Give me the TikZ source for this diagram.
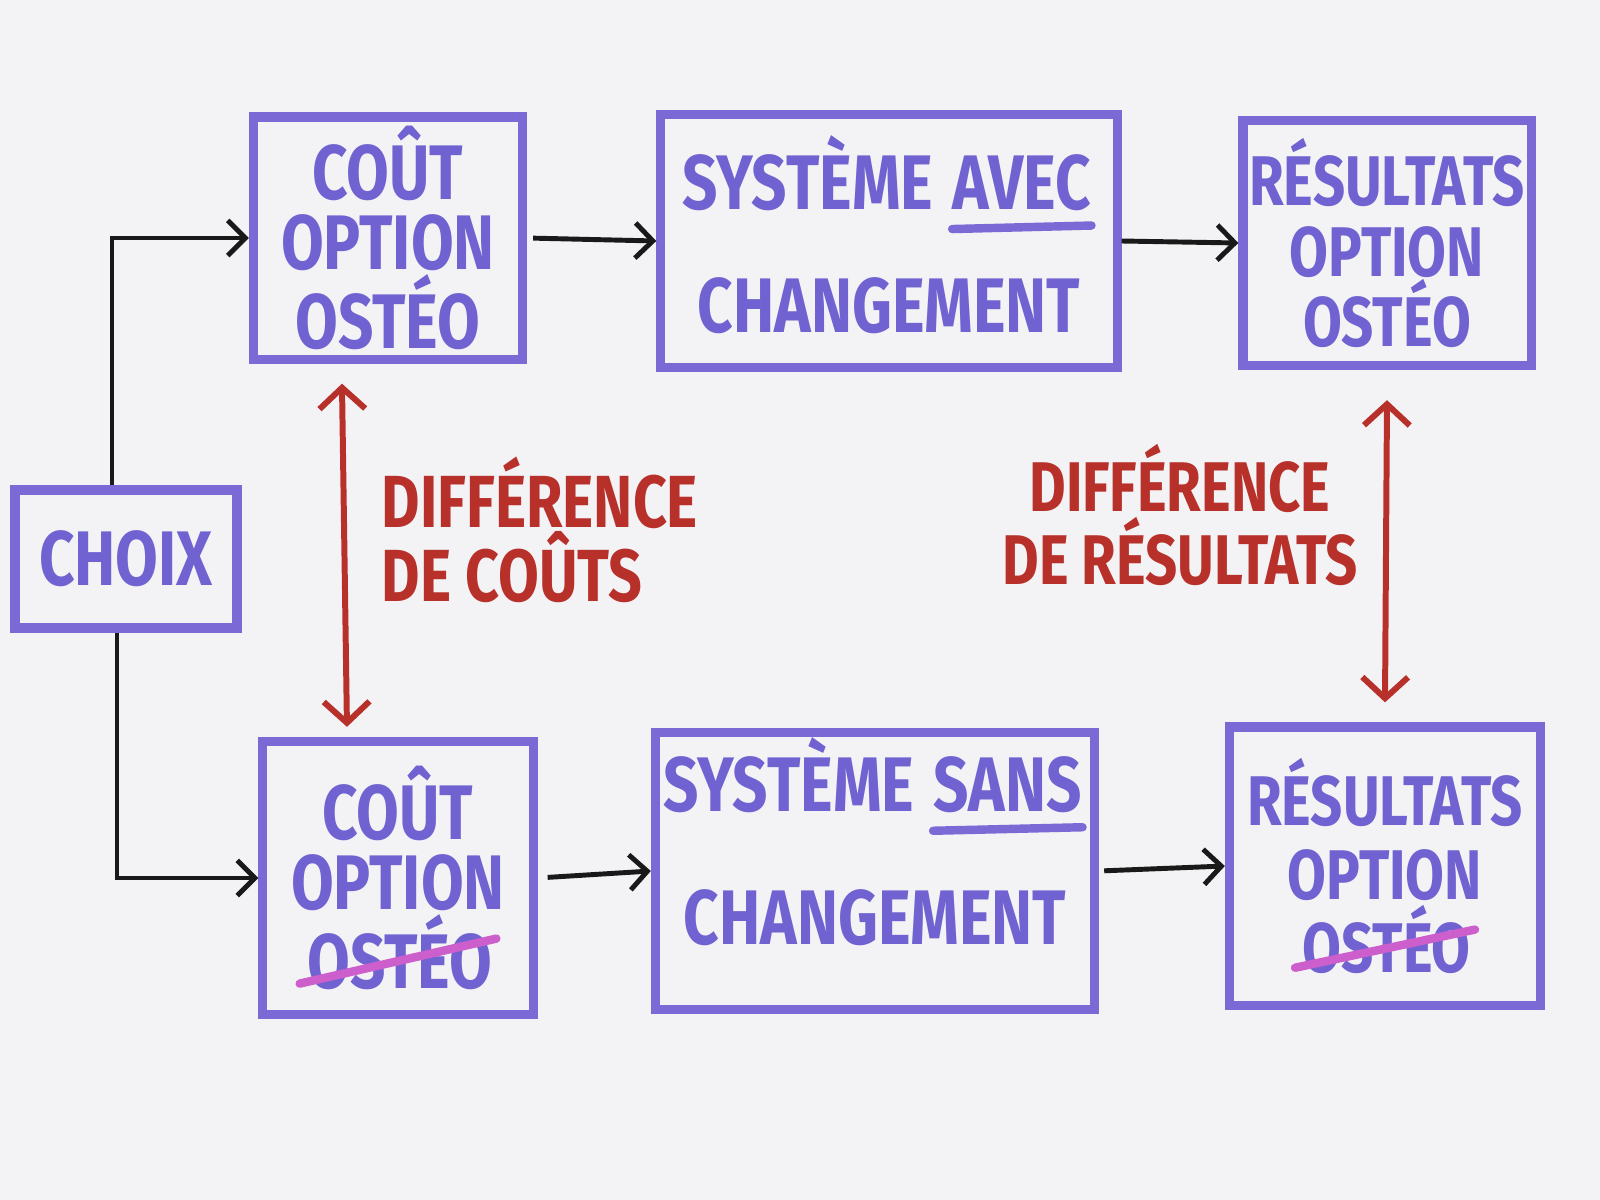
\documentclass[tikz,border=0pt]{standalone}
\usepackage{fontspec}
\setmainfont[FakeStretch=0.8]{Fira Sans}
\usetikzlibrary{arrows.meta}
\definecolor{paper}{HTML}{F3F3F6}
\definecolor{boxviolet}{HTML}{7B6AD6}
\definecolor{textviolet}{HTML}{7062D0}
\definecolor{diffred}{HTML}{B8302A}
\definecolor{strikepink}{HTML}{CC5FCC}
% mot souligne / mot barre
\newcommand\souligne[1]{\tikz[baseline=(m.base)]{\node[draw=none,inner sep=0pt,minimum width=0pt,minimum height=0pt,text depth=] (m) {#1};
  \draw[boxviolet,line width=2.4pt,line cap=round] ([yshift=-5pt]m.south west) -- ([yshift=-4pt]m.south east);}}
\newcommand\barre[1]{\tikz[baseline=(m.base)]{\node[draw=none,inner sep=0pt,minimum width=0pt,minimum height=0pt,text depth=] (m) {#1};
  \draw[strikepink,line width=2.4pt,line cap=round] ([xshift=-2pt,yshift=2pt]m.south west) -- ([xshift=1pt,yshift=-7pt]m.north east);}}
\begin{document}
\begin{tikzpicture}[x=0.01cm,y=-0.01cm,
    boite/.style={draw=boxviolet,line width=2.6pt,text=textviolet,align=center,inner sep=0pt,font=\fontsize{22}{20}\selectfont\bfseries},
    fleche/.style={-{Straight Barb[length=5pt,width=10pt]},line width=1.4pt,black!90},
    diff/.style={{Straight Barb[length=6pt,width=13pt]}-{Straight Barb[length=6pt,width=13pt]},line width=1.7pt,diffred},
    etiquette/.style={text=diffred,font=\fontsize{21}{21}\selectfont\bfseries}]
  \fill[paper] (0,0) rectangle (1600,1200);
  % boites
  \node[boite,minimum width=2.22cm,minimum height=1.38cm,font=\fontsize{22}{22}\selectfont\bfseries] (choix) at (126,559) {CHOIX};
  \node[boite,minimum width=2.69cm,minimum height=2.42cm] (coutA) at (388,238) {COÛT\\OPTION\\OSTÉO};
  \node[boite,minimum width=4.56cm,minimum height=2.53cm,text depth=0.14cm,font=\fontsize{22}{35}\selectfont\bfseries] (sysA) at (889,241) {SYSTÈME \souligne{AVEC}\\CHANGEMENT};
  \node[boite,minimum width=2.88cm,minimum height=2.45cm,font=\fontsize{20}{20}\selectfont\bfseries] (resA) at (1387,243) {RÉSULTATS\\OPTION\\OSTÉO};
  \node[boite,minimum width=2.70cm,minimum height=2.73cm] (coutB) at (398,878) {COÛT\\OPTION\\\barre{OSTÉO}};
  \node[boite,minimum width=4.39cm,minimum height=2.77cm,text depth=0.6cm,font=\fontsize{22}{38}\selectfont\bfseries] (sysB) at (875,871) {SYSTÈME \souligne{SANS}\\CHANGEMENT};
  \node[boite,minimum width=3.11cm,minimum height=2.78cm,font=\fontsize{20}{21}\selectfont\bfseries] (resB) at (1385,866) {RÉSULTATS\\OPTION\\\barre{OSTÉO}};
  % textes rouges
  \node[etiquette,align=left] (diffcouts) at (540,530) {DIFFÉRENCE\\DE COÛTS};
  \node[etiquette,align=center,font=\fontsize{20}{21}\selectfont\bfseries] (diffres) at (1180,515) {DIFFÉRENCE\\DE RÉSULTATS};
  % fleches
  \draw[fleche] ([xshift=-0.14cm]choix.north) |- (coutA.west);
  \draw[fleche] ([xshift=-0.09cm]choix.south) |- (coutB.west);
  \draw[fleche,shorten <=0.06cm] (coutA.east) -- (sysA.west);
  \draw[fleche] (sysA.east) -- (resA.west);
  \draw[fleche,shorten <=0.1cm] (coutB.east) -- (sysB.west);
  \draw[fleche,shorten <=0.05cm] (sysB.east) -- (resB.west);
  \draw[diff] ([xshift=-0.46cm,yshift=-0.2cm]coutA.south) -- ([xshift=-0.51cm,yshift=0.1cm]coutB.north);
  \draw[diff] ([yshift=-0.3cm]resA.south) -- ([yshift=0.2cm]resB.north);
\end{tikzpicture}
\end{document}
